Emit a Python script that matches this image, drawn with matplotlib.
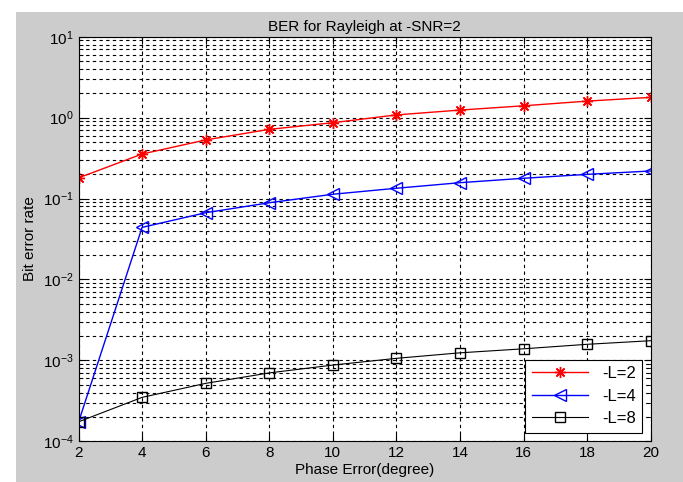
import numpy as np
import matplotlib
matplotlib.use('Agg')
import matplotlib.pyplot as plt
from matplotlib.patches import Rectangle
from matplotlib.ticker import LogLocator, NullFormatter

plt.rcParams['font.family'] = ['Liberation Sans', 'DejaVu Sans']

# data
phase_err = [2, 4, 6, 8, 10, 12, 14, 16, 18, 20]
ber_L2 = [0.18, 0.355, 0.53, 0.716, 0.865, 1.08, 1.24, 1.40, 1.60, 1.78]
ber_L4 = [1.72e-4, 0.044, 0.0668, 0.0887, 0.113, 0.134, 0.157, 0.178, 0.199, 0.219]
ber_L8 = [1.74e-4, 3.49e-4, 5.2e-4, 7.0e-4, 8.75e-4, 1.06e-3, 1.24e-3, 1.39e-3, 1.58e-3, 1.75e-3]
labels = ['-L=2', '-L=4', '-L=8']

fig = plt.figure(figsize=(6.83, 4.82), dpi=100, facecolor='white')
# grey MATLAB-style figure background (white strip at top/left)
fig.patches.append(Rectangle((16 / 683, 0), 1, 1 - 12 / 482, transform=fig.transFigure,
                             facecolor='#cccccc', edgecolor='none', zorder=-10))

ax = fig.add_axes([78.5 / 683, 1 - 441.3 / 482, (650.7 - 78.5) / 683, (441.3 - 36.7) / 482])
ax.set_facecolor('white')

# MATLAB '*' marker = 8-armed asterisk
ax.semilogy(phase_err, ber_L2, color='red', marker=(8, 2, 0), markersize=8, linewidth=1,
            markeredgewidth=1, label=labels[0])
ax.semilogy(phase_err, ber_L4, color='blue', marker='<', markersize=8, linewidth=1,
            markerfacecolor='none', markeredgewidth=1, label=labels[1])
ax.semilogy(phase_err, ber_L8, color='black', marker='s', markersize=7, linewidth=0.8,
            markerfacecolor='none', markeredgewidth=1, label=labels[2])

ax.set_xlim(2, 20)
ax.set_ylim(1e-4, 1e1)
ax.set_xticks(phase_err)
ax.yaxis.set_major_locator(LogLocator(base=10, numticks=10))
ax.yaxis.set_minor_locator(LogLocator(base=10, subs=np.arange(2, 10), numticks=20))
ax.yaxis.set_minor_formatter(NullFormatter())

ax.grid(True, which='major', color='black', linestyle=(0, (3, 3)), linewidth=0.8)
ax.grid(True, which='minor', axis='y', color='black', linestyle=(0, (3, 3)), linewidth=0.8)
ax.set_axisbelow(True)

ax.tick_params(which='both', direction='in', top=True, right=True, labelsize=11)
ax.tick_params(which='major', length=5)
ax.tick_params(which='minor', length=3)
for s in ax.spines.values():
    s.set_linewidth(0.8)

ax.set_title('BER for Rayleigh at -SNR=2', fontsize=11, pad=4)
ax.set_xlabel('Phase Error(degree)', fontsize=11, labelpad=2)
ax.set_ylabel('Bit error rate', fontsize=11, labelpad=4)

leg = ax.legend(loc='lower right', fontsize=12, fancybox=False, framealpha=1,
                edgecolor='black', borderaxespad=0.5, handlelength=3.4,
                labelspacing=0.45)
leg.get_frame().set_linewidth(0.8)

fig.savefig('out.png', dpi=100, facecolor=fig.get_facecolor())
